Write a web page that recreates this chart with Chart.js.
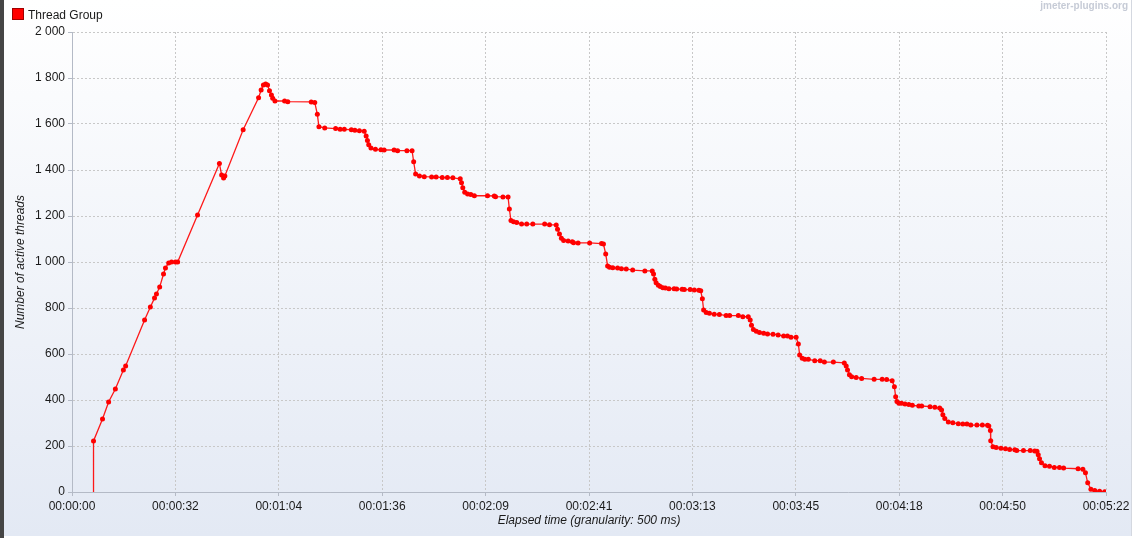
<!DOCTYPE html>
<html>
<head>
<meta charset="utf-8">
<script src="https://cdn.jsdelivr.net/npm/chart.js@4.4.1/dist/chart.umd.min.js"></script>
<style>
html,body{margin:0;padding:0;background:#ffffff;}
#wrap{width:1135px;height:538px;position:relative;}
canvas{display:block;}
</style>
</head>
<body>
<div id="wrap"><canvas id="c" width="1135" height="538"></canvas></div>
<script>
// ---- data ----
const seriesName = 'Thread Group';
const watermarkText = 'jmeter-plugins.org';
const xAxisTitle = 'Elapsed time (granularity: 500 ms)';
const yAxisTitle = 'Number of active threads';

// elapsed time of each sample, in seconds
const elapsedSeconds = [
  6.7, 6.7, 9.5, 11.4, 13.5, 16.0, 16.7, 22.6, 24.4, 25.7, 26.3, 27.3, 28.5, 29.1, 30.1, 31.0, 32.2, 32.9,
  39.1, 45.9, 46.6, 47.2, 47.6, 53.3, 58.1, 58.9, 59.6, 60.3, 60.9, 61.5, 62.1, 62.5, 63.2, 66.2, 67.2,
  74.5, 75.6, 76.4, 76.9, 78.7, 82.1, 83.5, 84.8, 87.0, 88.1, 89.5, 91.0, 91.6, 92.0, 92.4, 93.1, 94.5,
  96.2, 97.2, 100.3, 101.4, 104.3, 105.9, 106.4, 107.0, 108.2, 109.7, 112.0, 113.4, 115.3, 116.9, 118.6,
  120.9, 121.3, 121.7, 122.3, 123.2, 124.2, 125.3, 129.4, 131.5, 131.9, 134.2, 135.8, 136.2, 136.7, 137.5,
  138.5, 140.0, 141.6, 143.5, 147.2, 148.7, 150.8, 151.2, 151.8, 152.4, 153.1, 154.5, 155.8, 156.2, 157.6,
  161.2, 164.9, 165.5, 166.2, 166.8, 167.4, 168.4, 169.9, 171.1, 172.6, 174.6, 178.4, 180.7, 181.1, 181.5,
  181.9, 182.6, 183.2, 184.0, 184.8, 185.9, 187.5, 188.3, 190.0, 190.7, 192.5, 193.8, 195.2, 195.8, 196.3,
  196.7, 197.5, 198.5, 200.0, 201.6, 203.7, 204.8, 207.5, 208.9, 210.6, 211.2, 211.6, 212.2, 213.1, 214.1,
  215.4, 216.6, 218.3, 219.9, 221.6, 222.8, 223.9, 225.5, 226.2, 226.6, 227.4, 228.2, 229.3, 231.3, 233.0,
  234.3, 237.1, 240.5, 241.1, 241.5, 242.1, 242.8, 244.2, 245.9, 249.8, 252.3, 253.7, 255.4, 256.1, 256.5,
  256.9, 257.5, 258.3, 259.4, 260.6, 261.7, 263.7, 264.6, 267.2, 268.7, 270.2, 270.8, 271.2, 271.8, 272.9,
  274.3, 276.0, 277.4, 278.7, 279.9, 281.8, 283.5, 285.1, 285.5, 286.0, 286.1, 286.8, 287.8, 289.3, 290.7,
  292.0, 293.6, 294.2, 296.3, 298.4, 299.8, 300.5, 300.9, 301.3, 301.9, 303.0, 304.4, 305.9, 307.5, 308.8,
  313.3, 314.8, 315.6, 316.3, 317.3, 318.5, 320.0, 321.6
];

// number of active threads at each sample
const activeThreads = [
  0, 222, 317, 391, 448, 530, 548, 748, 804, 843, 861, 891, 948, 974, 996, 1000, 1000, 1000,
  1204, 1428, 1378, 1365, 1374, 1575, 1714, 1748, 1770, 1774, 1770, 1745, 1726, 1712, 1700, 1700, 1697,
  1696, 1694, 1642, 1588, 1583, 1580, 1577, 1577, 1575, 1573, 1571, 1568, 1548, 1528, 1510, 1496, 1490,
  1488, 1487, 1487, 1484, 1484, 1484, 1436, 1383, 1374, 1371, 1370, 1370, 1367, 1367, 1366,
  1362, 1345, 1323, 1303, 1296, 1293, 1288, 1288, 1287, 1284, 1283, 1283, 1230, 1180, 1175,
  1172, 1165, 1165, 1165, 1165, 1162, 1161, 1142, 1122, 1103, 1094, 1091, 1088, 1084, 1083,
  1083, 1080, 1078, 1035, 983, 977, 975, 974, 971, 970, 965, 961, 961, 948, 925,
  910, 899, 893, 888, 887, 884, 884, 883, 881, 880, 880, 878, 877, 875, 840,
  791, 780, 777, 773, 772, 767, 767, 767, 762, 762, 748, 725, 707, 699, 694,
  690, 687, 686, 683, 678, 678, 673, 673, 643, 596, 581, 577, 577, 571, 571,
  565, 565, 561, 548, 530, 510, 501, 498, 494, 490, 490, 489, 484, 458, 414,
  394, 386, 386, 383, 380, 377, 374, 374, 371, 368, 365, 357, 336, 320, 304,
  301, 297, 296, 296, 291, 291, 291, 290, 287, 267, 223, 197, 193, 190, 188,
  185, 184, 180, 180, 180, 178, 177, 162, 145, 127, 114, 112, 107, 107, 104,
  101, 99, 84, 40, 12, 6, 3, 1
];

const xTickLabels = ['00:00:00','00:00:32','00:01:04','00:01:36','00:02:09','00:02:41','00:03:13','00:03:45','00:04:18','00:04:50','00:05:22'];
const xMaxSeconds = 322;
const yTickValues = [0, 200, 400, 600, 800, 1000, 1200, 1400, 1600, 1800, 2000];

// ---- chart ----
const points = elapsedSeconds.map((t, i) => ({x: t, y: activeThreads[i]}));
const FONT = '"Liberation Sans", Arial, Helvetica, sans-serif';

const backgroundPlugin = {
  id: 'panelBackground',
  beforeDraw(chart) {
    const ctx = chart.ctx;
    const w = chart.width, h = chart.height;
    ctx.save();
    ctx.fillStyle = '#ffffff';
    ctx.fillRect(0, 0, w, h);
    const g = ctx.createLinearGradient(0, 0, 0, 536);
    g.addColorStop(0, '#ffffff');
    g.addColorStop(1, '#e3e9f4');
    ctx.fillStyle = g;
    ctx.fillRect(4, 0, 1128, 536);
    ctx.fillStyle = '#454545';
    ctx.fillRect(0, 0, 4, h);
    ctx.fillStyle = '#d4d8e0';
    ctx.fillRect(1131, 0, 1, 536);
    ctx.restore();
  },
  afterDraw(chart) {
    const ctx = chart.ctx;
    ctx.save();
    // legend
    const ds = chart.data.datasets[0];
    ctx.fillStyle = ds.backgroundColor;
    ctx.fillRect(12, 8, 12, 12);
    ctx.strokeStyle = '#a00000';
    ctx.lineWidth = 1;
    ctx.strokeRect(12.5, 8.5, 11, 11);
    ctx.fillStyle = '#1a1a1a';
    ctx.font = '12px ' + FONT;
    ctx.textBaseline = 'alphabetic';
    ctx.textAlign = 'left';
    ctx.fillText(ds.label, 28, 19);
    // watermark
    ctx.fillStyle = '#c6cbd6';
    ctx.font = 'bold 10px ' + FONT;
    ctx.textAlign = 'right';
    ctx.fillText(watermarkText, 1128, 9);
    ctx.restore();
  }
};

new Chart(document.getElementById('c'), {
  type: 'scatter',
  data: {
    datasets: [{
      label: seriesName,
      data: points,
      showLine: true,
      borderColor: 'rgba(255,0,0,0.9)',
      backgroundColor: '#ff0000',
      borderWidth: 1.3,
      pointRadius: ctx => (ctx.dataIndex === 0 ? 0 : 2.5),
      pointBorderWidth: 0,
      pointHoverRadius: 3,
      tension: 0
    }]
  },
  options: {
    responsive: false,
    devicePixelRatio: 1,
    animation: false,
    events: [],
    layout: {padding: {left: 0, top: 32, right: 29, bottom: 0}},
    plugins: {
      legend: {display: false},
      tooltip: {enabled: false}
    },
    scales: {
      x: {
        type: 'linear',
        min: 0,
        max: xMaxSeconds,
        afterBuildTicks: scale => {
          const n = xTickLabels.length - 1;
          scale.ticks = xTickLabels.map((_, i) => ({value: i * xMaxSeconds / n}));
        },
        afterFit: scale => { scale.height = 46; },
        ticks: {
          autoSkip: false,
          maxRotation: 0,
          padding: 3,
          color: '#1a1a1a',
          font: {family: FONT, size: 12},
          callback: (v, i) => xTickLabels[i]
        },
        grid: {
          color: '#c8c8c8',
          lineWidth: 1,
          tickLength: 4,
          tickColor: '#b4bac6'
        },
        border: {display: true, color: '#b4bac6', width: 1, dash: [2, 2]},
        title: {
          display: true,
          text: xAxisTitle,
          color: '#1a1a1a',
          font: {family: FONT, size: 12, style: 'italic'},
          padding: {top: 0, bottom: 10}
        }
      },
      y: {
        type: 'linear',
        min: 0,
        max: 2000,
        afterBuildTicks: scale => {
          scale.ticks = yTickValues.map(v => ({value: v}));
        },
        afterFit: scale => { scale.width = 72; },
        ticks: {
          padding: 3,
          color: '#1a1a1a',
          font: {family: FONT, size: 12},
          callback: v => String(v).replace(/\B(?=(\d{3})+(?!\d))/g, ' ')
        },
        grid: {
          color: '#c8c8c8',
          lineWidth: 1,
          tickLength: 4,
          tickColor: '#b4bac6'
        },
        border: {display: true, color: '#b4bac6', width: 1, dash: [2, 2]},
        title: {
          display: true,
          text: yAxisTitle,
          color: '#1a1a1a',
          font: {family: FONT, size: 12, style: 'italic'},
          padding: {top: 13, bottom: 0}
        }
      }
    }
  },
  plugins: [backgroundPlugin]
});
</script>
</body>
</html>
